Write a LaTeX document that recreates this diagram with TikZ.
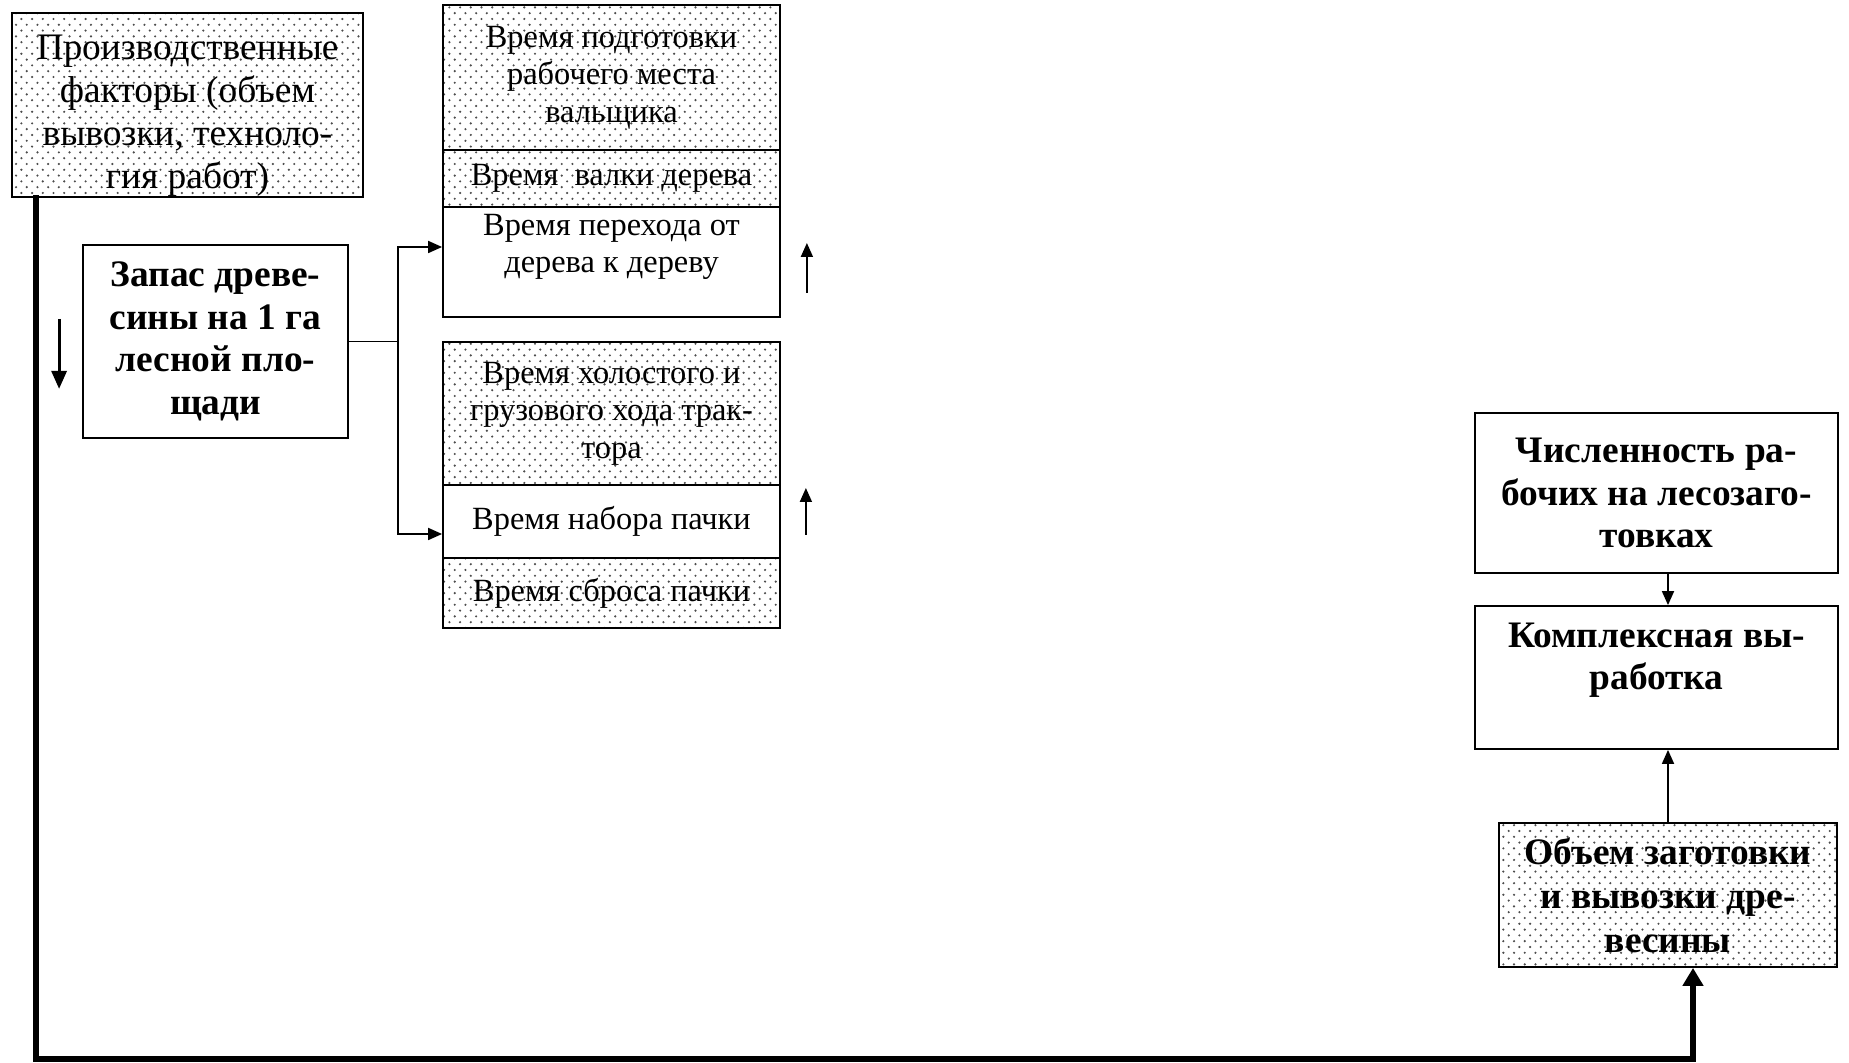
\documentclass[tikz,border=0pt]{standalone}
\usepackage{fontspec}
\setmainfont{Liberation Serif}
\usetikzlibrary{arrows.meta,calc,patterns}

% staggered dot screen used as the shading of the grey boxes
\pgfdeclarepatternformonly{dotscreen}{\pgfpoint{-1pt}{-1pt}}{\pgfpoint{4.5pt}{4.5pt}}{\pgfpoint{5.35pt}{5.8pt}}{%
  \pgfpathcircle{\pgfpointorigin}{0.6pt}\pgfusepath{fill}%
  \pgfpathcircle{\pgfpoint{2.675pt}{2.9pt}}{0.6pt}\pgfusepath{fill}}

\begin{document}
\begin{tikzpicture}[x=0.5pt,y=-0.5pt,
  box/.style={draw, line width=0.9pt, align=center, inner sep=2pt},
  shaded/.style={pattern=dotscreen, pattern color=black!70},
  big/.style={font=\fontsize{18.7}{21.5}\selectfont},
  bigbold/.style={font=\fontsize{18.7}{21.3}\selectfont\bfseries},
  small/.style={font=\fontsize{16.2}{18.8}\selectfont},
  arr/.style={line width=0.9pt, -{Triangle[length=7pt,width=6pt]}},
  trunk/.style={line width=2.6pt, line cap=rect, -{Triangle[length=9pt,width=10pt]}}
]
\useasboundingbox (0,0) rectangle (1849,1063);

% left column
\node[box, shaded, minimum width=175.5pt, minimum height=92pt] (prod) at (187.5,105) {};
\node[big, align=center, inner sep=0pt] (prodtext) at ($(prod.center)+(0,11)$)
  {Производственные\\факторы (объем\\вывозки, техноло-\\гия работ)};
\node[box, bigbold, minimum width=132.5pt, minimum height=96.5pt] (zapas) at (215.5,341.5)
  {Запас древе-\\сины на 1 га\\лесной пло-\\щади};

% upper stack: felling
\node[box, shaded, small, minimum width=168.5pt, minimum height=72.5pt] (s1) at (611.5,77.5)
  {Время подготовки\\рабочего места\\вальщика};
\node[box, shaded, small, minimum width=168.5pt, minimum height=28.5pt] (s2) at (611.5,178.5)
  {Время\ \ валки дерева};
\node[box, small, minimum width=168.5pt, minimum height=55pt] (s3) at (611.5,262)
  {Время перехода от\\дерева к дереву\\\mbox{}};

% lower stack: skidding
\node[box, shaded, small, minimum width=168.5pt, minimum height=71.5pt] (t1) at (611.5,413.5)
  {Время холостого и\\грузового хода трак-\\тора};
\node[box, small, minimum width=168.5pt, minimum height=36.5pt] (t2) at (611.5,521.5)
  {Время набора пачки};
\node[box, shaded, small, minimum width=168.5pt, minimum height=35pt] (t3) at (611.5,593)
  {Время сброса пачки};

% right column
\node[box, bigbold, minimum width=181.5pt, minimum height=80pt] (chisl) at (1656.5,493)
  {Численность ра-\\бочих на лесозаго-\\товках};
\node[box, bigbold, minimum width=181.5pt, minimum height=71.5pt] (kompl) at (1656.5,677.5)
  {Комплексная вы-\\работка\\\mbox{}};
\node[box, shaded, bigbold, minimum width=169pt, minimum height=72pt, font=\fontsize{18.7}{22}\selectfont\bfseries] (obem) at (1668,895)
  {Объем заготовки\\и вывозки дре-\\весины};

% branching from the timber stock
\coordinate (jn) at ($(zapas.east)+(49,0)$);
\coordinate (ja) at (397,247);
\coordinate (jb) at (397,534);
\draw[line width=0.9pt] (zapas.east) -- (jn);
\draw[arr] (jn) |- (s3.west |- ja);
\draw[arr] (jn) |- (t2.west |- jb);

% direction marks
\draw[arr] ($(s3.east)+(26,31)$) -- ++(0,-50);
\draw[arr] ($(t2.east)+(25,13.5)$) -- ++(0,-47);
\draw[line width=1.6pt, -{Triangle[length=9pt,width=7.5pt]}] ($(prod.south west)+(48,121)$) -- ++(0,70);

% right column links
\draw[arr] (chisl.south -| obem.north) -- (kompl.north -| obem.north);
\draw[arr] (obem.north) -- (kompl.south -| obem.north);

% main trunk from production factors to the harvest volume
\coordinate (c1) at (36,1059);
\coordinate (c2) at (1693,1059);
\draw[trunk] (prod.south -| c1) -- (c1) -- (c2) -- (c2 |- obem.south);
\end{tikzpicture}
\end{document}
